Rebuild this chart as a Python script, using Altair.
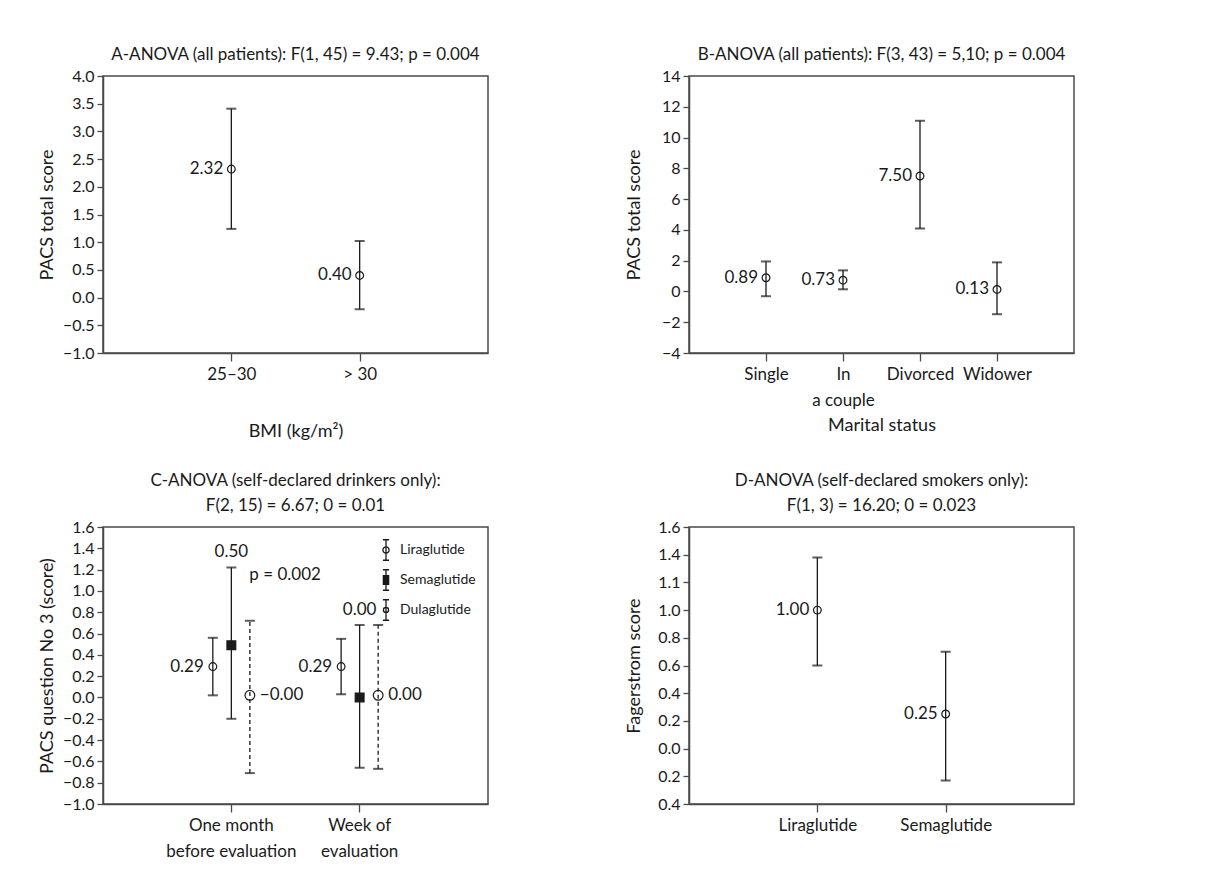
import altair as alt
import pandas as pd

FONT = "Lato"
INK = "#1a1a1a"
FRAME = "#4a4a4a"

# ---------------- data ----------------
# Panel A
a_cats = ["25–30", "> 30"]
a_mean = [2.32, 0.40]
a_lo = [1.24, -0.21]
a_hi = [3.41, 1.02]
a_text = ["2.32", "0.40"]
a_ticks = [-1.0, -0.5, 0.0, 0.5, 1.0, 1.5, 2.0, 2.5, 3.0, 3.5, 4.0]

# Panel B
b_cats = ["Single", "In\na couple", "Divorced", "Widower"]
b_mean = [0.89, 0.73, 7.50, 0.13]
b_lo = [-0.31, 0.14, 4.09, -1.48]
b_hi = [1.95, 1.37, 11.09, 1.89]
b_text = ["0.89", "0.73", "7.50", "0.13"]
b_ticks = [-4, -2, 0, 2, 4, 6, 8, 10, 12, 14]

# Panel C
c_groups = ["One month\nbefore evaluation", "Week of\nevaluation"]
c_series = ["Liraglutide", "Semaglutide", "Dulaglutide"]
c_mean = [0.29, 0.49, 0.02, 0.29, 0.00, 0.02]
c_lo = [0.02, -0.20, -0.71, 0.03, -0.66, -0.67]
c_hi = [0.56, 1.22, 0.72, 0.55, 0.68, 0.68]
c_text = ["0.29", "0.50", "−0.00", "0.29", "0.00", "0.00"]
c_ticks = [-1.0, -0.8, -0.6, -0.4, -0.2, 0.0, 0.2, 0.4, 0.6, 0.8, 1.0, 1.2, 1.4, 1.6]
c_note_text = ["p = 0.002"]
c_note_group = [c_groups[0]]
c_note_value = [1.15]

# Panel D
d_cats = ["Liraglutide", "Semaglutide"]
d_mean = [1.00, 0.25]
d_lo = [0.60, -0.23]
d_hi = [1.38, 0.70]
d_text = ["1.00", "0.25"]
d_ticks = [-0.4, -0.2, 0.0, 0.2, 0.4, 0.6, 0.8, 1.0, 1.2, 1.4, 1.6]
d_tick_labels = ["0.4", "0.2", "0.0", "0.2", "0.4", "0.6", "0.8", "1.0", "1.1", "1.4", "1.6"]

titles = {
    "A": "A-ANOVA (all patients): F(1, 45) = 9.43; p = 0.004",
    "B": "B-ANOVA (all patients): F(3, 43) = 5,10; p = 0.004",
    "C": ["C-ANOVA (self-declared drinkers only):", "F(2, 15) = 6.67; 0 = 0.01"],
    "D": ["D-ANOVA (self-declared smokers only):", "F(1, 3) = 16.20; 0 = 0.023"],
}

# ---------------- helpers ----------------
W, H = 385, 277
MULTI = "split(datum.label, '\\n')"


def ptitle(text):
    return alt.TitleParams(text=text, anchor="middle", frame="group", fontSize=17,
                           font=FONT, fontWeight="normal", color=INK, offset=4,
                           lineHeight=25)


def label_expr(vals, labs):
    parts = [f"abs(datum.value - ({v})) < 1e-6 ? '{l}'" for v, l in zip(vals, labs)]
    return " : ".join(parts) + " : datum.label"


def simple_panel(cats, mean, lo, hi, text, ticks, ydom, ytitle, xtitle, title,
                 yfmt=".1f", ylabel_expr=None, ytitle_pad=6, xtitle_pad=10):
    df = pd.DataFrame({"cat": cats, "mean": mean, "lo": lo, "hi": hi, "text": text})
    yaxis_kw = dict(values=ticks, format=yfmt, title=ytitle, titlePadding=ytitle_pad,
                    labelOverlap=False)
    if ylabel_expr:
        yaxis_kw["labelExpr"] = ylabel_expr
    yax = alt.Axis(**yaxis_kw)
    yscale = alt.Scale(domain=ydom, nice=False, zero=False)

    def Y(f):
        return alt.Y(f"{f}:Q", scale=yscale, axis=yax)

    x = alt.X("cat:N", sort=cats, scale=alt.Scale(type="point", padding=1),
              axis=alt.Axis(title=xtitle, labelExpr=MULTI, titlePadding=xtitle_pad))
    base = alt.Chart(df)
    rule = base.mark_rule(color=INK, strokeWidth=1.3).encode(x=x, y=Y("lo"), y2="hi:Q")
    cap_lo = base.mark_tick(color=INK, thickness=2, size=10, orient="horizontal").encode(x=x, y=Y("lo"))
    cap_hi = base.mark_tick(color=INK, thickness=2, size=10, orient="horizontal").encode(x=x, y=Y("hi"))
    pt = base.mark_point(shape="circle", filled=False, color=INK, opacity=1, size=60,
                         strokeWidth=1.2).encode(x=x, y=Y("mean"))
    lab = base.mark_text(align="right", baseline="middle", dx=-8, font=FONT, fontSize=17,
                         color=INK).encode(x=x, y=Y("mean"), text="text:N")
    return alt.layer(rule, cap_lo, cap_hi, pt, lab).properties(width=W, height=H, title=ptitle(title))


# ---------------- panels ----------------
pA = simple_panel(a_cats, a_mean, a_lo, a_hi, a_text, a_ticks, [-1.0, 4.0],
                  "PACS total score", "BMI (kg/m²)", titles["A"], xtitle_pad=40, ytitle_pad=6)
pB = simple_panel(b_cats, b_mean, b_lo, b_hi, b_text, b_ticks, [-4, 14],
                  "PACS total score", "Marital status", titles["B"], yfmt="d",
                  xtitle_pad=8, ytitle_pad=18)
pD = simple_panel(d_cats, d_mean, d_lo, d_hi, d_text, d_ticks, [-0.4, 1.6],
                  "Fagerstrom score", None, titles["D"],
                  ylabel_expr=label_expr(d_ticks, d_tick_labels), ytitle_pad=14)

# Panel C
df_c = pd.DataFrame({
    "group": [g for g in c_groups for _ in c_series],
    "series": c_series * len(c_groups),
    "mean": c_mean, "lo": c_lo, "hi": c_hi, "text": c_text,
})
df_note = pd.DataFrame({"group": c_note_group, "value": c_note_value, "text": c_note_text})

cx = alt.X("group:N", sort=c_groups,
           scale=alt.Scale(type="band", paddingInner=0.567, paddingOuter=0.784),
           axis=alt.Axis(title=None, labelExpr=MULTI))
cxo = alt.XOffset("series:N", sort=c_series,
                  scale=alt.Scale(domain=c_series, paddingInner=0, paddingOuter=0))
cy_scale = alt.Scale(domain=[-1.0, 1.6], nice=False, zero=False)
cy_axis = alt.Axis(values=c_ticks, format=".1f", title="PACS question No 3 (score)",
                   titlePadding=6, labelOverlap=False)


def CY(f):
    return alt.Y(f"{f}:Q", scale=cy_scale, axis=cy_axis)


base_c = alt.Chart(df_c)
c_rule = base_c.mark_rule(color=INK, strokeWidth=1.3).encode(
    x=cx, xOffset=cxo, y=CY("lo"), y2="hi:Q",
    strokeDash=alt.StrokeDash("series:N", scale=alt.Scale(domain=c_series,
                              range=[[1, 0], [1, 0], [4, 3]]), legend=None))
c_cap_lo = base_c.mark_tick(color=INK, thickness=2, size=10, orient="horizontal").encode(
    x=cx, xOffset=cxo, y=CY("lo"))
c_cap_hi = base_c.mark_tick(color=INK, thickness=2, size=10, orient="horizontal").encode(
    x=cx, xOffset=cxo, y=CY("hi"))
c_pt = base_c.mark_point(stroke=INK, strokeWidth=1.2, opacity=1).encode(
    x=cx, xOffset=cxo, y=CY("mean"),
    shape=alt.Shape("series:N", scale=alt.Scale(domain=c_series, range=["circle", "square", "circle"]), legend=None),
    fill=alt.Fill("series:N", scale=alt.Scale(domain=c_series, range=["transparent", INK, "transparent"]), legend=None),
    size=alt.Size("series:N", scale=alt.Scale(domain=c_series, range=[60, 95, 50]), legend=None))
c_lab_l = base_c.transform_filter(alt.datum.series == c_series[0]).mark_text(
    align="right", baseline="middle", dx=-9, font=FONT, fontSize=17, color=INK).encode(
    x=cx, xOffset=cxo, y=CY("mean"), text="text:N")
c_lab_t = base_c.transform_filter(alt.datum.series == c_series[1]).mark_text(
    align="center", baseline="middle", dy=-15, font=FONT, fontSize=17, color=INK).encode(
    x=cx, xOffset=cxo, y=CY("hi"), text="text:N")
c_lab_r = base_c.transform_filter(alt.datum.series == c_series[2]).mark_text(
    align="left", baseline="middle", dx=10, font=FONT, fontSize=17, color=INK).encode(
    x=cx, xOffset=cxo, y=CY("mean"), text="text:N")
c_note = alt.Chart(df_note).mark_text(align="left", baseline="middle", dx=18, font=FONT,
                                      fontSize=17, color=INK).encode(
    x=alt.X("group:N", sort=c_groups), y=CY("value"), text="text:N")

# legend glyphs (error-bar style symbols)
bar = "M0,-1V1M-0.3,-1H0.3M-0.3,1H0.3"
circ = "M0.3,0A0.3,0.3 0 1,1 -0.3,0A0.3,0.3 0 1,1 0.3,0"
circ_s = "M0.25,0A0.25,0.25 0 1,1 -0.25,0A0.25,0.25 0 1,1 0.25,0"
sq = "".join(f"M-0.32,{-0.42 + 0.07 * i:.2f}H0.32" for i in range(13))
leg_paths = [bar + circ, bar + sq, bar + circ_s]
c_leg = base_c.transform_filter("false").mark_point(filled=False, color=INK, opacity=1,
                                                    strokeWidth=1.3).encode(
    shape=alt.Shape("series:N", scale=alt.Scale(domain=c_series, range=leg_paths),
                    legend=alt.Legend(title=None, orient="top-right", offset=12, padding=0,
                                      symbolSize=420, symbolStrokeWidth=1.3,
                                      symbolStrokeColor=INK, symbolFillColor="transparent",
                                      labelFont=FONT, labelFontSize=14, labelColor=INK,
                                      rowPadding=4, labelOffset=3)))

pC = alt.layer(c_rule, c_cap_lo, c_cap_hi, c_pt, c_lab_l, c_lab_t, c_lab_r, c_note, c_leg).resolve_scale(
    shape="independent").properties(width=W, height=H, title=ptitle(titles["C"]))

row1 = alt.hconcat(pA, pB, spacing=135)
row2 = alt.hconcat(pC, pD, spacing=135)
chart = alt.vconcat(row1, row2, spacing=30).properties(
    padding={"left": 29, "top": 37, "right": 5, "bottom": 5}
).configure_view(stroke=FRAME, strokeWidth=1.5).configure_axis(
    grid=False, labelFont=FONT, titleFont=FONT, labelFontSize=16, titleFontSize=18,
    titleFontWeight="normal", labelColor=INK, titleColor=INK, domainColor=FRAME,
    domainWidth=1.5, tickColor=FRAME, tickWidth=1.3, tickSize=6, labelPadding=3,
    labelOverlap=False
).configure_axisX(labelAngle=0, tickSize=8, labelFontSize=17, labelLineHeight=26,
                  labelPadding=5).configure_title(font=FONT)

chart.save("out.html", embed_options={"renderer": "svg", "actions": False})
